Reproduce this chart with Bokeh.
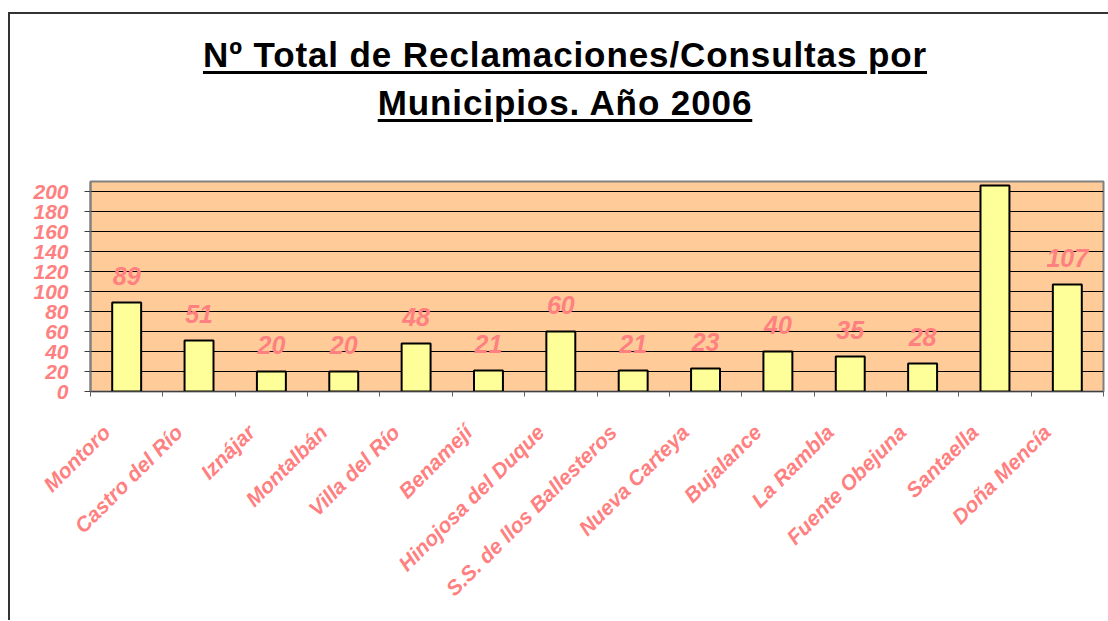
import math
from bokeh.plotting import figure
from bokeh.models import Range1d, FixedTicker, LabelSet, ColumnDataSource, Div
from bokeh.layouts import column
from bokeh.core.properties import value
from bokeh.embed import file_html
from bokeh.resources import INLINE

# ---- data ----
municipios = ["Montoro", "Castro del Río", "Iznájar", "Montalbán", "Villa del Río",
              "Benamejí", "Hinojosa del Duque", "S.S. de llos Ballesteros",
              "Nueva Carteya", "Bujalance", "La Rambla", "Fuente Obejuna",
              "Santaella", "Doña Mencía"]
reclamaciones = [89, 51, 20, 20, 48, 21, 60, 21, 23, 40, 35, 28, 206, 107]
y_ticks = [0, 20, 40, 60, 80, 100, 120, 140, 160, 180, 200]
titulo = ["Nº Total de Reclamaciones/Consultas por", "Municipios. Año 2006"]

PINK = "#FF8080"
FONT = "Liberation Sans"

n = len(municipios)
xs = [i + 0.5 for i in range(n)]
src = ColumnDataSource(dict(x=xs, top=reclamaciones,
                            label=[str(v) for v in reclamaciones]))

p = figure(width=1096, height=486, x_range=Range1d(0, n), y_range=Range1d(0, 210),
           output_backend="svg", toolbar_location=None,
           min_border_left=80, min_border_right=3, min_border_top=47, min_border_bottom=229,
           background_fill_color="#FFCC99", border_fill_color="white",
           outline_line_color="#808080", outline_line_width=2)

p.vbar(x="x", top="top", bottom=0, width=0.4, source=src,
       fill_color="#FFFF99", line_color="black", line_width=2)

labels = LabelSet(x="x", y="top", text="label", source=src, y_offset=27,
                  text_align="center", text_baseline="middle",
                  text_font=value(FONT), text_font_style="bold italic",
                  text_font_size="25px", text_color=PINK)
p.add_layout(labels)

# grid
p.xgrid.visible = False
p.ygrid.ticker = FixedTicker(ticks=y_ticks)
p.ygrid.grid_line_color = "black"
p.ygrid.grid_line_width = 1

# y axis
ya = p.yaxis[0]
ya.ticker = FixedTicker(ticks=y_ticks)
ya.major_label_text_font = FONT
ya.major_label_text_font_style = "bold italic"
ya.major_label_text_font_size = "21px"
ya.major_label_text_color = PINK
ya.axis_line_color = "#808080"
ya.axis_line_width = 2
ya.major_tick_out = 6
ya.major_tick_in = 0
ya.major_tick_line_color = "#404040"
ya.minor_tick_line_color = None
ya.major_label_standoff = 16

# x axis: boundary ticks as minor ticks, labels at shifted major ticks
shift = 0.28
label_ticks = [x - shift for x in xs]
xa = p.xaxis[0]
xa.ticker = FixedTicker(ticks=label_ticks, minor_ticks=list(range(n + 1)))
xa.major_label_overrides = {t: m for t, m in zip(label_ticks, municipios)}
xa.major_tick_line_color = None
xa.major_tick_out = 0
xa.major_tick_in = 0
xa.minor_tick_out = 5
xa.minor_tick_in = 0
xa.minor_tick_line_color = "#606060"
xa.axis_line_color = "#404040"
xa.axis_line_width = 1
xa.major_label_orientation = math.pi / 4
xa.major_label_standoff = 32
xa.major_label_text_font = FONT
xa.major_label_text_font_style = "bold italic"
xa.major_label_text_font_size = "21px"
xa.major_label_text_color = PINK

title_html = (
    "<div style=\"font-family:'Liberation Sans',Arial,sans-serif;font-weight:bold;"
    "font-size:35px;line-height:48px;letter-spacing:0.9px;text-align:center;"
    "text-decoration:underline;text-decoration-thickness:3px;text-underline-offset:4px;"
    "color:black;padding-top:12px;position:relative;left:2px;width:1096px;\">"
    + titulo[0] + "<br>" + titulo[1] + "</div>"
)
title_div = Div(text=title_html, width=1096, height=110)

layout = column(title_div, p, styles={"border-left": "2px solid #333333",
                                     "border-top": "2px solid #333333",
                                     "margin-top": "12px",
                                     "margin-left": "8px"})

open("out.html", "w").write(file_html(layout, INLINE, title="Reclamaciones 2006"))
